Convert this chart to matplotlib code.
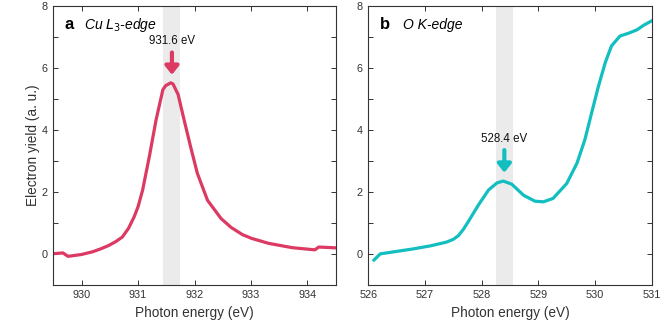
import matplotlib
matplotlib.use("Agg")
import matplotlib.pyplot as plt

plt.rcParams['font.family'] = ['Liberation Sans', 'DejaVu Sans']

# Cu L3-edge data
cu_energy = [929.46, 929.67, 929.76, 930.0, 930.2, 930.35, 930.48, 930.6, 930.72, 930.83,
             930.93, 931.0, 931.08, 931.2, 931.32, 931.44, 931.49, 931.58, 931.62,
             931.71, 931.8, 931.93, 932.05, 932.23, 932.47, 932.65, 932.85, 933.01,
             933.31, 933.73, 934.13, 934.2, 934.55]
cu_yield = [0.0, 0.03, -0.08, -0.02, 0.07, 0.17, 0.27, 0.39, 0.54, 0.82,
            1.19, 1.52, 2.05, 3.14, 4.33, 5.30, 5.43, 5.52, 5.48,
            5.14, 4.44, 3.46, 2.6, 1.73, 1.14, 0.85, 0.62, 0.5,
            0.34, 0.2, 0.13, 0.22, 0.19]

# O K-edge data
o_energy = [526.1, 526.21, 526.5, 526.79, 527.1, 527.38, 527.5, 527.59, 527.68, 527.76,
            527.94, 528.12, 528.27, 528.38, 528.53, 528.74, 528.94, 529.09, 529.26,
            529.5, 529.68, 529.82, 529.94, 530.06, 530.18, 530.29, 530.44, 530.59,
            530.74, 530.86, 531.0]
o_yield = [-0.2, 0.0, 0.08, 0.16, 0.26, 0.38, 0.47, 0.59, 0.8, 1.03,
           1.57, 2.06, 2.29, 2.35, 2.25, 1.89, 1.70, 1.68, 1.79,
           2.27, 2.92, 3.68, 4.55, 5.41, 6.17, 6.71, 7.03, 7.12,
           7.23, 7.38, 7.52]

cu_peak = 931.6
o_peak = 528.4
cu_band = (931.45, 931.75)
o_band = (528.25, 528.55)

red = '#DC3A62'
cyan = '#12BEC0'

fig = plt.figure(figsize=(6.64, 3.32), dpi=100)
ax1 = fig.add_axes([0.0803, 0.142, 0.4253, 0.840])
ax2 = fig.add_axes([0.5547, 0.142, 0.4268, 0.840])

def style(ax, xlim, xticks):
    ax.set_xlim(*xlim)
    ax.set_ylim(-1, 8)
    ax.set_xticks(xticks)
    ax.set_yticks(range(-1, 9))
    ax.set_yticklabels(['' if v % 2 else str(v) for v in range(-1, 9)])
    ax.tick_params(direction='in', length=3.5, width=0.7, labelsize=7.8,
                   top=True, right=True, colors='#333333', labelcolor='#333333', pad=4)
    for s in ax.spines.values():
        s.set_linewidth(0.8)
        s.set_color('#333333')
    ax.set_xlabel('Photon energy (eV)', fontsize=9.8, color='#333333', labelpad=4)

style(ax1, (929.5, 934.5), [930, 931, 932, 933, 934])
style(ax2, (526, 531), [526, 527, 528, 529, 530, 531])
ax1.set_ylabel('Electron yield (a. u.)', fontsize=9.8, color='#333333', labelpad=1)

ax1.axvspan(*cu_band, color='#EBEBEB', zorder=0, lw=0)
ax2.axvspan(*o_band, color='#EBEBEB', zorder=0, lw=0)

ax1.plot(cu_energy, cu_yield, color=red, lw=2.3, solid_joinstyle='round')
ax2.plot(o_energy, o_yield, color=cyan, lw=2.3, solid_joinstyle='round')

ap = dict(arrowstyle='-|>,head_width=0.4,head_length=0.5', lw=3.0, shrinkA=0, shrinkB=0)
ax1.annotate('', xy=(cu_peak, 5.78), xytext=(cu_peak, 6.5),
             arrowprops=dict(ap, color=red))
ax1.text(cu_peak, 6.88, '931.6 eV', ha='center', va='center', fontsize=8.3, color='#111111')

ax2.annotate('', xy=(o_peak, 2.62), xytext=(o_peak, 3.35),
             arrowprops=dict(ap, color=cyan))
ax2.text(o_peak, 3.72, '528.4 eV', ha='center', va='center', fontsize=8.3, color='#111111')

ax1.text(929.69, 7.4, 'a', fontsize=12, fontweight='bold', va='center', ha='left')
ax1.text(930.04, 7.4, r'Cu $\mathit{L}_3$-edge', fontsize=10, style='italic', va='center', ha='left')
ax2.text(526.2, 7.4, 'b', fontsize=12, fontweight='bold', va='center', ha='left')
ax2.text(526.62, 7.4, 'O K-edge', fontsize=10, style='italic', va='center', ha='left')

fig.savefig('out.png', dpi=100)
